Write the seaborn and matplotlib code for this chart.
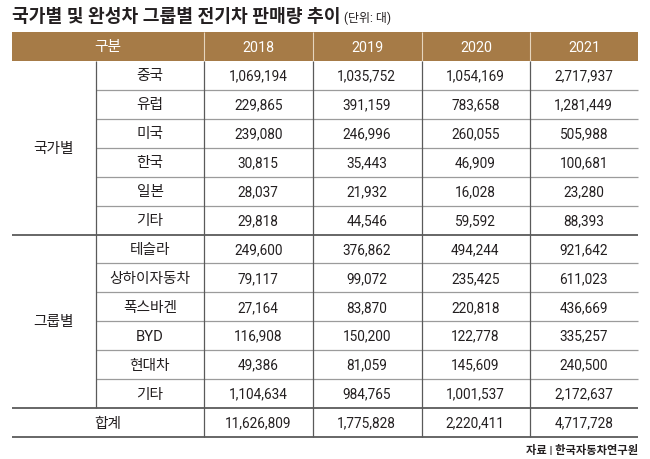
"""EV sales by country and automaker group, 2018-2021, drawn as a table."""

import matplotlib
matplotlib.use("Agg")
import matplotlib.pyplot as plt
import numpy as np
import pandas as pd
import seaborn as sns
from matplotlib.colors import ListedColormap
from matplotlib.patches import Rectangle

sns.set_theme(style="white")
plt.rcParams["font.family"] = ["Roboto", "Noto Sans CJK KR", "DejaVu Sans"]

# ---------------------------------------------------------------------------
# data
# ---------------------------------------------------------------------------
title = "국가별 및 완성차 그룹별 전기차 판매량 추이"
unit = "(단위: 대)"
source = "자료 | 한국자동차연구원"
header_label = "구분"
years = ["2018", "2019", "2020", "2021"]

country_group = "국가별"
countries = ["중국", "유럽", "미국", "한국", "일본", "기타"]
country_sales = [
    [1069194, 1035752, 1054169, 2717937],
    [229865, 391159, 783658, 1281449],
    [239080, 246996, 260055, 505988],
    [30815, 35443, 46909, 100681],
    [28037, 21932, 16028, 23280],
    [29818, 44546, 59592, 88393],
]

maker_group = "그룹별"
makers = ["테슬라", "상하이자동차", "폭스바겐", "BYD", "현대차", "기타"]
maker_sales = [
    [249600, 376862, 494244, 921642],
    [79117, 99072, 235425, 611023],
    [27164, 83870, 220818, 436669],
    [116908, 150200, 122778, 335257],
    [49386, 81059, 145609, 240500],
    [1104634, 984765, 1001537, 2172637],
]

total_label = "합계"
total_sales = [11626809, 1775828, 2220411, 4717728]

# ---------------------------------------------------------------------------
# layout (pixels of a 650x460 canvas)
# ---------------------------------------------------------------------------
W, H = 650, 460
LEFT, RIGHT = 12, 638
COL_GROUP, COL_NUM = 96, 204
YEAR_EDGES = [204, 313, 422, 530, 638]
HEAD_TOP, BODY_TOP, BODY_BOT = 33, 62, 438
HEADER_COLOR = "#a67b47"
TEXT_COLOR = "#231f20"
FS_NUM = 9.8
FS_KO = 10.6

rows = countries + makers + [total_label]
values = np.array(country_sales + maker_sales + [total_sales])
df = pd.DataFrame(values, index=rows, columns=years)
labels = df.map(lambda v: f"{v:,}")
n_rows = len(rows)
row_h = (BODY_BOT - BODY_TOP) / n_rows


def px_axes(fig, x0, y0, x1, y1):
    return fig.add_axes([x0 / W, 1 - y1 / H, (x1 - x0) / W, (y1 - y0) / H])


fig = plt.figure(figsize=(W / 100, H / 100), dpi=100)

# numeric body as a flat white heatmap with annotations
hm_ax = px_axes(fig, COL_NUM, BODY_TOP, RIGHT, BODY_BOT)
sns.heatmap(df, annot=labels.values, fmt="", cmap=ListedColormap(["white"]),
            cbar=False, ax=hm_ax,
            annot_kws={"fontsize": FS_NUM, "color": TEXT_COLOR})
hm_ax.set_axis_off()

# overlay in pixel coordinates for header, labels and rules
ax = fig.add_axes([0, 0, 1, 1])
ax.set_xlim(0, W)
ax.set_ylim(H, 0)
ax.set_axis_off()
ax.patch.set_visible(False)

t = ax.text(LEFT, 17, title, fontsize=13.1, fontweight="bold", color=TEXT_COLOR,
            va="center", ha="left")
fig.canvas.draw()
title_end = t.get_window_extent().x1
ax.text(title_end + 4, 18, unit, fontsize=8.6, color=TEXT_COLOR,
        va="center", ha="left")

# header band
ax.add_patch(Rectangle((LEFT, HEAD_TOP), RIGHT - LEFT, BODY_TOP - HEAD_TOP,
                       facecolor=HEADER_COLOR, edgecolor="none"))
head_mid = (HEAD_TOP + BODY_TOP) / 2
ax.text((LEFT + COL_NUM) / 2, head_mid, header_label, color="white",
        fontsize=FS_KO, ha="center", va="center")
for i, yr in enumerate(years):
    ax.text((YEAR_EDGES[i] + YEAR_EDGES[i + 1]) / 2, head_mid, yr,
            color="white", fontsize=FS_NUM + 0.5, ha="center", va="center")
for x in YEAR_EDGES[:-1]:
    ax.vlines(x, HEAD_TOP, BODY_TOP, color="#e6d5bd", lw=0.8)

# row labels
for i, name in enumerate(rows[:-1]):
    ax.text((COL_GROUP + COL_NUM) / 2, BODY_TOP + (i + 0.5) * row_h, name,
            fontsize=FS_KO, color=TEXT_COLOR, ha="center", va="center")
ax.text((LEFT + COL_NUM) / 2, BODY_TOP + (n_rows - 0.5) * row_h, total_label,
        fontsize=FS_KO, color=TEXT_COLOR, ha="center", va="center")

n_c, n_m = len(countries), len(makers)
ax.text((LEFT + COL_GROUP) / 2, BODY_TOP + n_c / 2 * row_h, country_group,
        fontsize=FS_KO, color=TEXT_COLOR, ha="center", va="center")
ax.text((LEFT + COL_GROUP) / 2, BODY_TOP + (n_c + n_m / 2) * row_h, maker_group,
        fontsize=FS_KO, color=TEXT_COLOR, ha="center", va="center")

# rules
light, dark = "#9b9b9b", "#5a5a5a"
for k in range(1, n_rows):
    y = BODY_TOP + k * row_h
    if k in (n_c, n_c + n_m):
        ax.hlines(y, LEFT, RIGHT, color=dark, lw=1.3)
    else:
        ax.hlines(y, COL_GROUP, RIGHT, color=light, lw=0.9)
ax.hlines(BODY_BOT, LEFT, RIGHT, color=dark, lw=1.3)
ax.vlines(COL_GROUP, BODY_TOP, BODY_TOP + (n_c + n_m) * row_h, color=dark, lw=0.9)
for x in YEAR_EDGES[:-1]:
    ax.vlines(x, BODY_TOP, BODY_BOT, color=dark, lw=0.9)

ax.text(RIGHT, 450, source, fontsize=8.1, fontweight="bold", color=TEXT_COLOR,
        ha="right", va="center")

fig.savefig("out.png", dpi=100)
